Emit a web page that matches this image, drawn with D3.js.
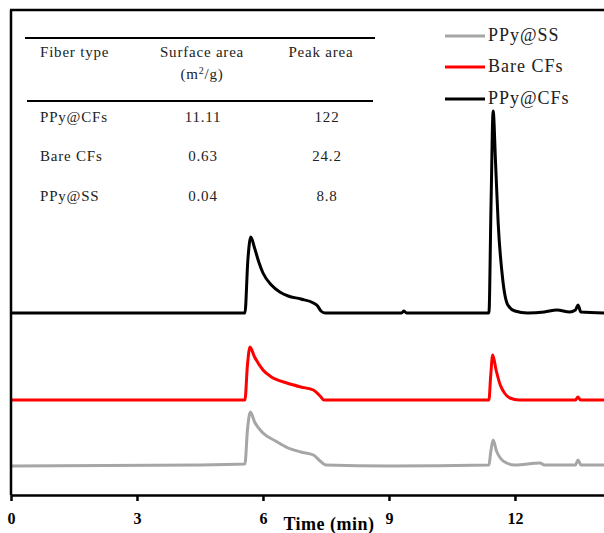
<!DOCTYPE html>
<html>
<head>
	<script src="https://d3js.org/d3.v7.min.js"></script>
	<style>
		body { margin: 0; background: #fff; }
		text { font-family: "Liberation Serif", "Times New Roman", serif; }
	</style>
</head>
<body>
	<script type="text/javascript">

		// chromatogram traces : [time (min), signal]
		var ppyCFs = [[0,182],[5.0,182],[5.57,182],[5.64,235],[5.71,258],[5.8,247],[5.9,233],[6.0,222],
			[6.2,210],[6.4,203],[6.6,199],[6.9,196],[7.2,192],[7.3,189],[7.38,184],[7.48,182],
			[9.3,182],[9.35,184],[9.42,182],[11.38,182],[11.43,290],[11.48,384],[11.54,330],[11.6,272],
			[11.71,215],[11.83,190],[12.0,184],[12.3,182],[12.7,183],[13.0,185],[13.3,183],
			[13.44,185],[13.5,190],[13.57,183],[14.2,182]];

		var bareCFs = [[0,95],[5.0,95],[5.57,95],[5.63,130],[5.69,148],[5.8,138],[6.0,125],[6.2,118],
			[6.57,112],[6.9,108],[7.2,105],[7.36,99],[7.45,95],[11.38,95],[11.42,118],[11.47,140],
			[11.55,125],[11.65,110],[11.75,102],[11.88,97],[12.1,95],[13.44,95],[13.5,98],[13.56,95],[14.2,95]];

		var ppySS = [[0,29],[4.5,30],[5.57,31],[5.63,65],[5.7,83],[5.8,73],[6.0,62],[6.3,54],[6.6,47],
			[6.9,43],[7.2,40],[7.36,34],[7.5,30],[9.0,29],[11.38,30],[11.42,42],[11.48,55],[11.56,44],
			[11.65,37],[11.8,32],[12.0,30],[12.6,32],[12.7,30],[13.44,30],[13.5,35],[13.57,30],[14.2,30]];

		var seriesNames = ["PPy@SS", "Bare CFs", "PPy@CFs"];
		var seriesData = [ppySS, bareCFs, ppyCFs];
		var seriesColors = ["#a6a6a6", "#ff0000", "#000000"];

		var xTicks = [0, 3, 6, 9, 12];

		// inset table
		var tableHeader = ["Fiber type", "Surface area", "Peak area"];
		var fiberTypes = ["PPy@CFs", "Bare CFs", "PPy@SS"];
		var surfaceArea = ["11.11", "0.63", "0.04"];
		var peakArea = ["122", "24.2", "8.8"];

		var w = 604;
		var h = 533;

		var svg = d3.select("body")
				.append("svg")
				.attr("width", w)
				.attr("height", h);

		var xScale = d3.scaleLinear()
				.domain([0, 14.12])
				.range([11, 604]);

		var yScale = d3.scaleLinear()
				.domain([0, 485])
				.range([495, 10]);

		// traces
		var line = d3.line()
				.x(function(d){ return xScale(d[0]); })
				.y(function(d){ return yScale(d[1]); })
				.curve(d3.curveMonotoneX);

		svg.selectAll("path.trace")
			.data(seriesData)
			.enter()
			.append("path")
			.attr("class", "trace")
			.attr("d", line)
			.attr("fill", "none")
			.attr("stroke", function(d, i){ return seriesColors[i]; })
			.attr("stroke-width", 3)
			.attr("stroke-linejoin", "round");

		// frame (left + top)
		svg.append("line")
			.attr("x1", 11).attr("x2", 11)
			.attr("y1", 10).attr("y2", 495)
			.attr("stroke", "#000").attr("stroke-width", 2.5);
		svg.append("line")
			.attr("x1", 10).attr("x2", 604)
			.attr("y1", 10).attr("y2", 10)
			.attr("stroke", "#000").attr("stroke-width", 2.5);

		// x axis
		var xAxis = d3.axisBottom(xScale)
				.tickValues(xTicks)
				.tickSize(6)
				.tickSizeOuter(0)
				.tickPadding(12);

		var gx = svg.append("g")
			.attr("transform", "translate(0,495)")
			.call(xAxis);
		gx.select(".domain").attr("stroke-width", 2.5);
		gx.selectAll(".tick line").attr("stroke-width", 2.5);
		gx.selectAll(".tick text")
			.style("font-family", "'Liberation Serif', serif")
			.style("font-weight", "bold")
			.style("font-size", "16px")
			.attr("fill", "#000");

		svg.append("text")
			.attr("x", 329)
			.attr("y", 530)
			.attr("text-anchor", "middle")
			.style("font-weight", "bold")
			.style("font-size", "18px")
			.style("letter-spacing", "0.5px")
			.text("Time (min)");

		// legend
		var legend = svg.selectAll("g.legend")
			.data(seriesNames)
			.enter()
			.append("g")
			.attr("class", "legend")
			.attr("transform", function(d, i){ return "translate(445," + [36, 67, 99][i] + ")"; });

		legend.append("line")
			.attr("x1", 0).attr("x2", 40)
			.attr("stroke", function(d, i){ return seriesColors[i]; })
			.attr("stroke-width", 3);

		legend.append("text")
			.attr("x", 43)
			.attr("y", 5)
			.style("font-size", "18px")
			.style("letter-spacing", "1px")
			.attr("fill", "#222")
			.text(function(d){ return d; });

		// table
		var table = svg.append("g");
		table.append("line")
			.attr("x1", 25).attr("x2", 375).attr("y1", 38).attr("y2", 38)
			.attr("stroke", "#000").attr("stroke-width", 1.8);
		table.append("line")
			.attr("x1", 27).attr("x2", 373).attr("y1", 101).attr("y2", 101)
			.attr("stroke", "#000").attr("stroke-width", 1.8);

		var colX = [40, 202, 321];
		table.selectAll("text.head")
			.data(tableHeader)
			.enter()
			.append("text")
			.attr("class", "head")
			.attr("x", function(d, i){ return colX[i]; })
			.attr("y", 57)
			.attr("text-anchor", function(d, i){ return i == 0 ? "start" : "middle"; })
			.style("font-size", "15px")
			.style("letter-spacing", "0.8px")
			.attr("fill", "#222")
			.text(function(d){ return d; });

		var unit = table.append("text")
			.attr("x", 202)
			.attr("y", 79)
			.attr("text-anchor", "middle")
			.style("font-size", "15px")
			.style("letter-spacing", "0.8px")
			.attr("fill", "#222");
		unit.append("tspan").text("(m");
		unit.append("tspan").attr("dy", -5).style("font-size", "10px").text("2");
		unit.append("tspan").attr("dy", 5).text("/g)");

		var rowY = [122, 161, 201];
		fiberTypes.forEach(function(f, i){
			var row = [f, surfaceArea[i], peakArea[i]];
			var vx = [40, 203, 327];
			table.selectAll(null)
				.data(row)
				.enter()
				.append("text")
				.attr("x", function(d, j){ return vx[j]; })
				.attr("y", rowY[i])
				.attr("text-anchor", function(d, j){ return j == 0 ? "start" : "middle"; })
				.style("font-size", "15px")
				.style("letter-spacing", "0.8px")
				.attr("fill", "#222")
				.text(function(d){ return d; });
		});

	</script>
</body>
</html>
